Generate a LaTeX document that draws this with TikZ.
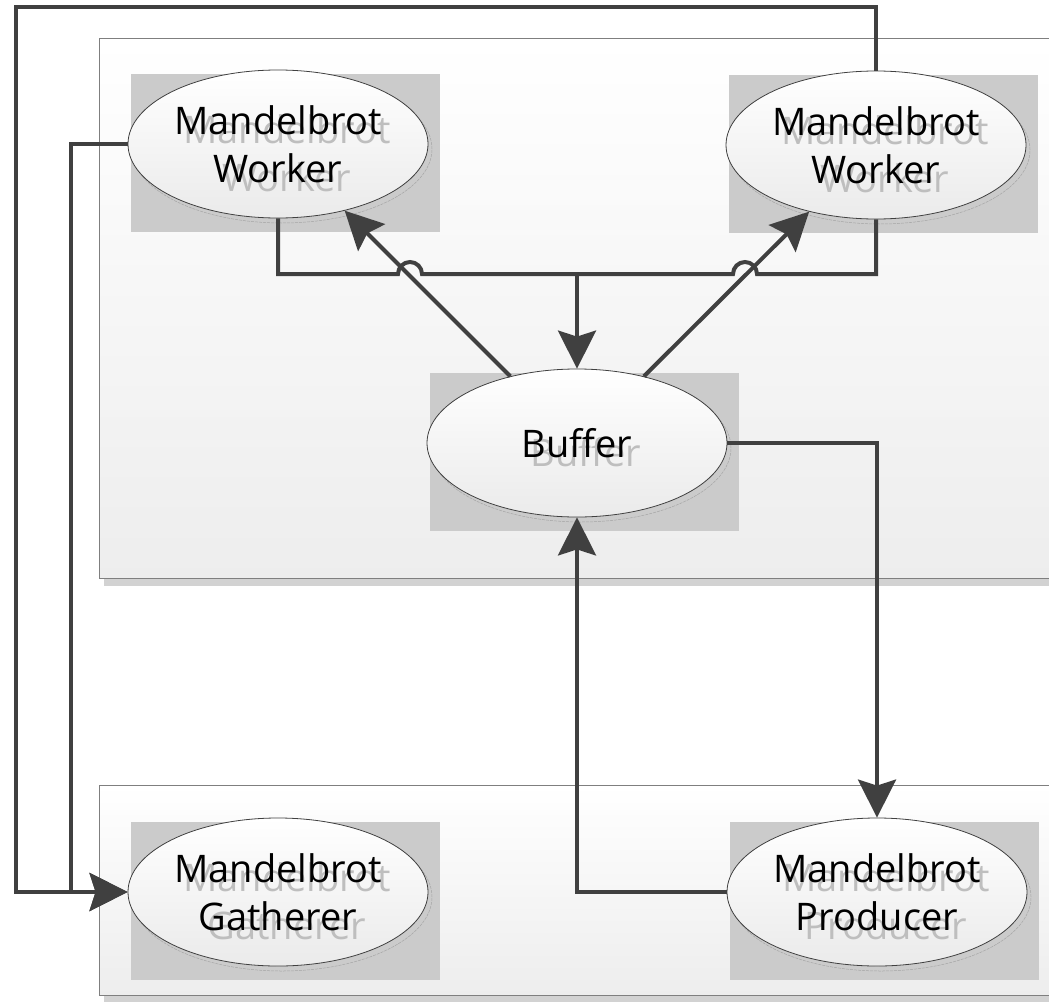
\documentclass[tikz,border=0pt]{standalone}
\usepackage{fontspec}
\setmainfont{Open Sans}
\usetikzlibrary{arrows.meta,calc,shapes.geometric}
\definecolor{conncol}{HTML}{404040}
\definecolor{boxgray}{HTML}{CBCBCB}
\definecolor{framecol}{HTML}{7F7F7F}
\definecolor{contshadow}{HTML}{D2D2D2}
\definecolor{ghostcol}{HTML}{BEBEBE}
\tikzset{
  conn/.style={draw=conncol, line width=4pt},
  arr/.style={-{Stealth[length=38pt,width=38pt,inset=6pt]}},
  container/.style={draw=framecol, line width=0.9pt, top color=white, bottom color=black!7},
  procell/.style={ellipse, draw=conncol, line width=0.8pt, minimum width=300pt, minimum height=148pt, inner sep=0pt, top color=white, bottom color=black!8},
  shadowell/.style={draw=black!35, line width=0.5pt, dash pattern=on 3pt off 1pt},
  proctext/.style={align=center, inner sep=0pt, font=\fontsize{38}{48}\selectfont, text=black},
  ghost/.style={align=center, inner sep=0pt, font=\fontsize{38}{48}\selectfont, text=ghostcol}
}
\newcommand\procbox[4]{%
  \fill[boxgray] (#2-147,#3-70) rectangle (#2+162,#3+88);
  \draw[shadowell] (#2+4,#3+5) ellipse [x radius=150pt, y radius=74pt];
  \node[procell] (#1) at (#2,#3) {};
  \node[ghost] (#1g) at (#2+9,#3+9) {#4};
  \node[proctext] (#1t) at (#2,#3) {#4};
}
\begin{document}
\begin{tikzpicture}[x=1pt,y=-1pt]
\useasboundingbox (0,0) rectangle (1049,1001);
\clip (0,0) rectangle (1049,1001);
\fill[white] (0,0) rectangle (1049,1001);
% containers
\fill[contshadow] (104,44) rectangle (1070,586);
\path[container] (99,38) rectangle (1070,578);
\fill[contshadow] (104,791) rectangle (1070,1003);
\path[container] (99,785) rectangle (1070,995);
% processes
\procbox{tlw}{278}{144}{Mandelbrot\\Worker}
\procbox{trw}{876}{145}{Mandelbrot\\Worker}
\procbox{buf}{577}{443}{Buffer}
\procbox{gat}{278}{892}{Mandelbrot\\Gatherer}
\procbox{pro}{877}{892}{Mandelbrot\\Producer}
% coordinates
\coordinate (junc) at (577,274);
\coordinate (topleft) at (16,7);
\coordinate (leftbus) at (71,0);
% connectors
\draw[conn] (tlw.south) |- (398,274) arc[start angle=180,end angle=0,radius=12pt] -- (junc);
\draw[conn] (trw.south) |- (757,274) arc[start angle=0,end angle=180,radius=12pt] -- (junc);
\draw[conn,arr] (junc) -- (buf.north);
\draw[conn,arr] (buf) -- (tlw);
\draw[conn,arr] (buf) -- (trw);
\draw[conn,arr] (buf.east) -| (pro.north);
\draw[conn,arr] (pro.west) -| (buf.south);
\draw[conn,arr] (trw.north) |- (topleft) |- (gat.west);
\draw[conn,arr] (tlw.west) -- (tlw.west -| leftbus) |- (gat.west);
\end{tikzpicture}
\end{document}
